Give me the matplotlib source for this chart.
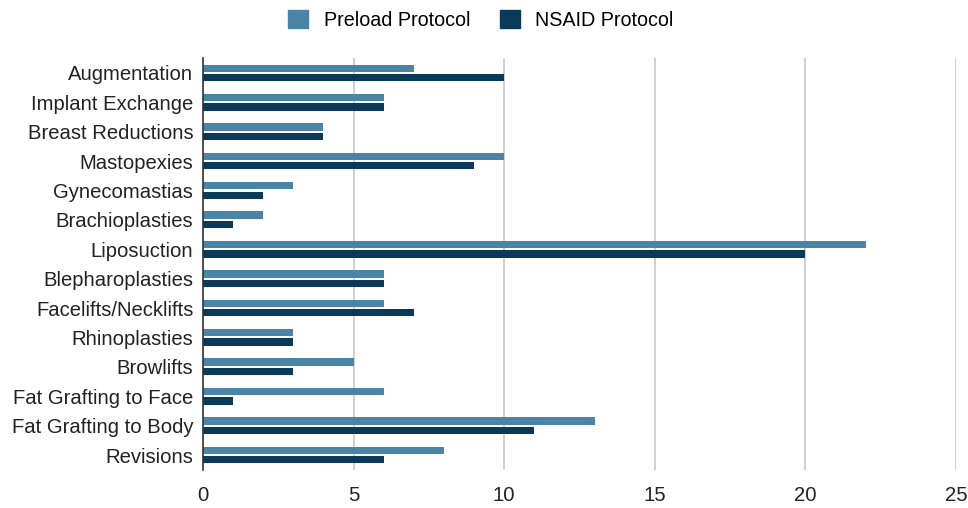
import numpy as np
import matplotlib.pyplot as plt
from matplotlib.patches import Patch

plt.rcParams['font.family'] = ['Liberation Sans', 'DejaVu Sans']

categories = ['Augmentation', 'Implant Exchange', 'Breast Reductions', 'Mastopexies',
              'Gynecomastias', 'Brachioplasties', 'Liposuction', 'Blepharoplasties',
              'Facelifts/Necklifts', 'Rhinoplasties', 'Browlifts', 'Fat Grafting to Face',
              'Fat Grafting to Body', 'Revisions']
preload = [7, 6, 4, 10, 3, 2, 22, 6, 6, 3, 5, 6, 13, 8]
nsaid = [10, 6, 4, 9, 2, 1, 20, 6, 7, 3, 3, 1, 11, 6]

c_pre = '#4a84a6'
c_nsaid = '#0a3a57'

fig = plt.figure(figsize=(9.68, 5.08), dpi=100)
ax = fig.add_axes([0.2097, 0.0754, 0.778, 0.81])

y = np.arange(len(categories))
h = 0.25
ax.barh(y - 0.16, preload, height=h, color=c_pre)
ax.barh(y + 0.16, nsaid, height=h, color=c_nsaid)

ax.set_ylim(len(categories) - 0.5, -0.5)
ax.set_xlim(0, 25)
ax.set_yticks(y)
ax.set_yticklabels(categories, fontsize=14.6, color='#222222')
ax.set_xticks([0, 5, 10, 15, 20, 25])
ax.tick_params(axis='x', labelsize=14.6, colors='#222222', length=0, pad=12)
ax.tick_params(axis='y', length=0, pad=7)
ax.xaxis.grid(True, color='#c8c8c8', linewidth=1.2)
ax.set_axisbelow(True)
for s in ['top', 'right', 'bottom']:
    ax.spines[s].set_visible(False)
ax.spines['left'].set_color('#333333')
ax.spines['left'].set_linewidth(1.2)

handles = [Patch(color=c_pre, label='Preload Protocol'),
           Patch(color=c_nsaid, label='NSAID Protocol')]
fig.legend(handles=handles, loc='upper center', bbox_to_anchor=(0.497, 1.015), ncol=2,
           frameon=False, fontsize=14.2, handlelength=1.0, handleheight=1.0,
           columnspacing=1.5, handletextpad=0.8)

fig.savefig('out.png', dpi=100)
